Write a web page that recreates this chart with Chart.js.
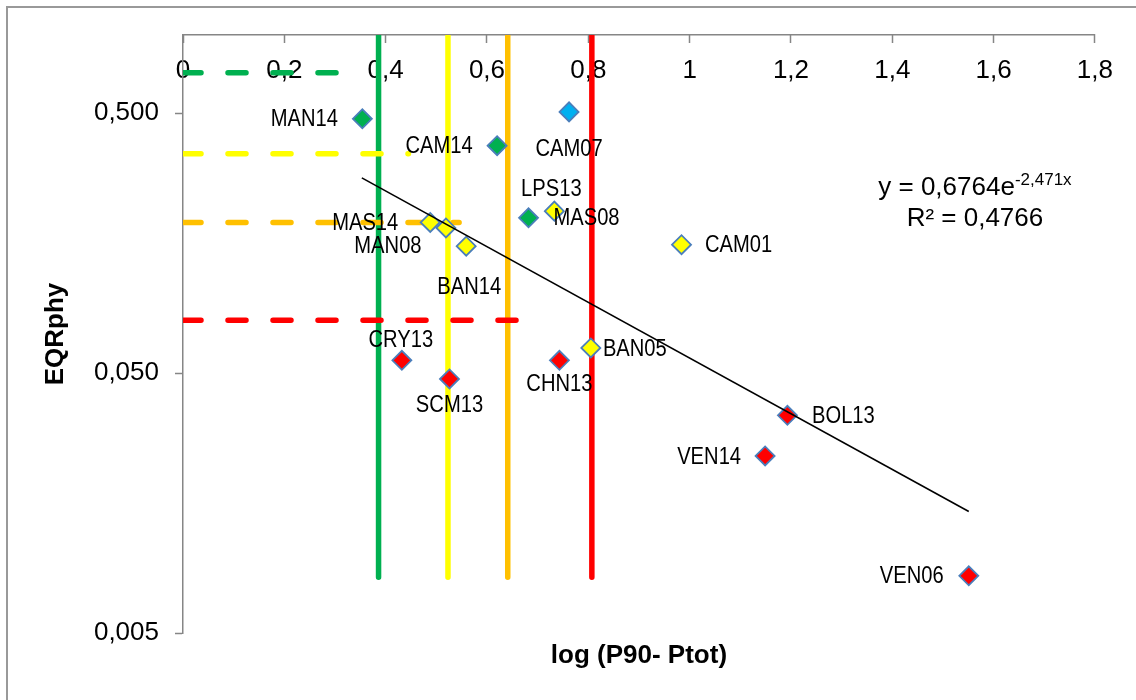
<!DOCTYPE html>
<html>
<head>
<meta charset="utf-8">
<script src="https://cdn.jsdelivr.net/npm/chart.js@4.4.1/dist/chart.umd.min.js"></script>
<style>
  html, body { margin: 0; padding: 0; background: #fff; }
  #wrap { width: 1136px; height: 700px; }
</style>
</head>
<body>
<div id="wrap"><canvas id="chart" width="1136" height="700"></canvas></div>
<script>
// Sites and their values
const SITE_NAMES = ["MAN14", "CAM14", "CAM07", "LPS13", "MAS08", "MAS14", "MAN08", "BAN14",
  "CAM01", "BAN05", "CRY13", "SCM13", "CHN13", "BOL13", "VEN14", "VEN06"];
const LOG_P = [0.354, 0.620, 0.762, 0.733, 0.682, 0.488, 0.519, 0.559,
  0.984, 0.805, 0.432, 0.526, 0.743, 1.193, 1.149, 1.551];
const EQR = [0.476, 0.375, 0.506, 0.210, 0.198, 0.190, 0.181, 0.154,
  0.156, 0.0625, 0.056, 0.0475, 0.056, 0.0344, 0.024, 0.0083];
const SITE_CLASS = ["good", "good", "high", "moderate", "good", "moderate", "moderate", "moderate",
  "moderate", "moderate", "bad", "bad", "bad", "bad", "bad", "bad"];

// Class boundaries: EQR (dashed) and log(P90-Ptot) (solid)
const BOUNDARY_NAMES = ["good", "moderate", "poor", "bad"];
const BOUNDARY_EQR = [0.715, 0.349, 0.190, 0.0798];
const BOUNDARY_DASH_END = [0.34, 0.445, 0.545, 0.67];
const BOUNDARY_LOGP = [0.386, 0.523, 0.641, 0.807];
const BOUNDARY_LINE_BOTTOM = 0.0082;

// Exponential trendline end points
const TREND_X = [0.353, 1.551];
const TREND_Y = [0.282, 0.01467];
const TREND_EQUATION = "y = 0,6764e";
const TREND_EXPONENT = "-2,471x";
const TREND_R2 = "R² = 0,4766";

const X_TICKS = [0, 0.2, 0.4, 0.6, 0.8, 1, 1.2, 1.4, 1.6, 1.8];
const Y_TICKS = [0.005, 0.05, 0.5];

const CLASS_COLORS = {
  high: "#00B0F0",
  good: "#00B050",
  moderate: "#FFFF00",
  poor: "#FFC000",
  bad: "#FF0000",
};

// Label offsets (px) from each marker, as placed in the original
const LABEL_OFFSETS = {
  MAN14: [-58, 1], CAM14: [-58, 1], CAM07: [0, 37], LPS13: [-3, -22],
  MAS08: [58, 1], MAS14: [-65, 1], MAN08: [-58, 18], BAN14: [3, 41],
  CAM01: [57, 1], BAN05: [44, 1], CRY13: [-1, -20], SCM13: [0, 26],
  CHN13: [0, 24], BOL13: [56, 1], VEN14: [-56, 1], VEN06: [-57, 1],
};

const AXIS_GREY = "#868686";
const FONT = "'Liberation Sans', Arial, sans-serif";

// Build datasets
const points = SITE_NAMES.map((name, i) => ({ x: LOG_P[i], y: EQR[i] }));

const verticalSets = BOUNDARY_LOGP.map((x, i) => ({
  type: "line",
  data: [{ x: x, y: 1 }, { x: x, y: BOUNDARY_LINE_BOTTOM }],
  borderColor: CLASS_COLORS[BOUNDARY_NAMES[i]],
  borderWidth: 5.5,
  borderCapStyle: "round",
  pointRadius: 0,
  order: 3,
}));

const dashedSets = BOUNDARY_EQR.map((y, i) => ({
  type: "line",
  data: [{ x: 0, y: y }, { x: BOUNDARY_DASH_END[i], y: y }],
  borderColor: CLASS_COLORS[BOUNDARY_NAMES[i]],
  borderWidth: 5.5,
  borderDash: [18, 27],
  borderCapStyle: "round",
  pointRadius: 0,
  order: 2,
}));

const trendSet = {
  type: "line",
  data: TREND_X.map((x, i) => ({ x: x, y: TREND_Y[i] })),
  borderColor: "#000",
  borderWidth: 1.6,
  pointRadius: 0,
  order: 0,
};

const pointSet = {
  type: "scatter",
  data: points,
  pointStyle: "rectRot",
  pointRadius: 9.5,
  pointHoverRadius: 9.5,
  pointBackgroundColor: SITE_CLASS.map((c) => CLASS_COLORS[c]),
  pointBorderColor: "#4a7ebb",
  pointBorderWidth: 1.8,
  order: 1,
};

// Outer frame of the chart
const framePlugin = {
  id: "frame",
  beforeDraw(chart) {
    const ctx = chart.ctx;
    ctx.save();
    ctx.fillStyle = "#fff";
    ctx.fillRect(0, 0, chart.width, chart.height);
    ctx.strokeStyle = "#999";
    ctx.lineWidth = 2;
    ctx.strokeRect(7, 7, chart.width + 20, chart.height + 20);
    ctx.restore();
  },
};

// Site labels and trendline equation
const labelPlugin = {
  id: "siteLabels",
  afterDraw(chart) {
    const ctx = chart.ctx;
    const meta = chart.getDatasetMeta(chart.data.datasets.indexOf(pointSet));
    ctx.save();
    ctx.fillStyle = "#000";
    ctx.textAlign = "center";
    ctx.textBaseline = "middle";
    ctx.font = "24px " + FONT;
    meta.data.forEach((pt, i) => {
      const off = LABEL_OFFSETS[SITE_NAMES[i]] || [0, -20];
      ctx.save();
      ctx.translate(pt.x + off[0], pt.y + off[1]);
      ctx.scale(0.84, 1);
      ctx.fillText(SITE_NAMES[i], 0, 0);
      ctx.restore();
    });

    // equation box
    const area = chart.chartArea;
    const cx = area.right - 120;
    const y1 = area.top + 153;
    ctx.font = "26px " + FONT;
    const w1 = ctx.measureText(TREND_EQUATION).width;
    ctx.font = "17px " + FONT;
    const w2 = ctx.measureText(TREND_EXPONENT).width;
    const left = cx - (w1 + w2) / 2;
    ctx.textAlign = "left";
    ctx.font = "26px " + FONT;
    ctx.fillText(TREND_EQUATION, left, y1);
    ctx.font = "17px " + FONT;
    ctx.fillText(TREND_EXPONENT, left + w1, y1 - 8);
    ctx.textAlign = "center";
    ctx.font = "26px " + FONT;
    ctx.fillText(TREND_R2, cx, y1 + 31);
    ctx.restore();
  },
};

const ctx = document.getElementById("chart").getContext("2d");

new Chart(ctx, {
  data: {
    datasets: [trendSet, pointSet, ...dashedSets, ...verticalSets],
  },
  options: {
    responsive: false,
    animation: false,
    devicePixelRatio: 1,
    layout: { padding: { left: 0, right: 41, top: 0, bottom: 0 } },
    plugins: {
      legend: { display: false },
      tooltip: { enabled: false },
    },
    scales: {
      x: {
        type: "linear",
        position: "top",
        min: 0,
        max: 1.8,
        z: 1,
        afterBuildTicks: (scale) => {
          scale.ticks = X_TICKS.map((v) => ({ value: v }));
        },
        afterFit: (scale) => {
          scale.height = 35;
        },
        ticks: {
          mirror: true,
          padding: 23,
          color: "#000",
          font: { family: FONT, size: 26, lineHeight: 1 },
          callback: (v) => String(Number(v.toFixed(1))).replace(".", ","),
        },
        grid: {
          display: true,
          drawOnChartArea: false,
          drawTicks: true,
          tickLength: -8,
          tickColor: AXIS_GREY,
          tickWidth: 1.5,
        },
        border: { display: true, color: AXIS_GREY, width: 1.5 },
      },
      x2: {
        type: "linear",
        position: "bottom",
        min: 0,
        max: 1.8,
        afterFit: (scale) => {
          scale.height = 67;
        },
        ticks: { display: false },
        grid: { display: false, drawTicks: false },
        border: { display: false },
        title: {
          display: true,
          text: "log (P90- Ptot)",
          color: "#000",
          font: { family: FONT, size: 26, weight: "bold", lineHeight: 1.2 },
          padding: { top: 0, bottom: 29 },
        },
      },
      y: {
        type: "logarithmic",
        position: "left",
        min: 0.005,
        max: 1,
        afterBuildTicks: (scale) => {
          scale.ticks = Y_TICKS.map((v) => ({ value: v }));
        },
        afterFit: (scale) => {
          scale.width = 183;
        },
        ticks: {
          padding: 16,
          color: "#000",
          font: { family: FONT, size: 26 },
          callback: (v) => Number(v).toFixed(3).replace(".", ","),
        },
        grid: {
          display: true,
          drawOnChartArea: false,
          drawTicks: true,
          tickLength: 8,
          tickColor: AXIS_GREY,
          tickWidth: 1.5,
        },
        border: { display: true, color: AXIS_GREY, width: 1.5 },
        title: {
          display: true,
          text: "EQRphy",
          color: "#000",
          font: { family: FONT, size: 26, weight: "bold", lineHeight: 1.2 },
          padding: { top: 40, bottom: 0 },
        },
      },
    },
  },
  plugins: [framePlugin, labelPlugin],
});
</script>
</body>
</html>
